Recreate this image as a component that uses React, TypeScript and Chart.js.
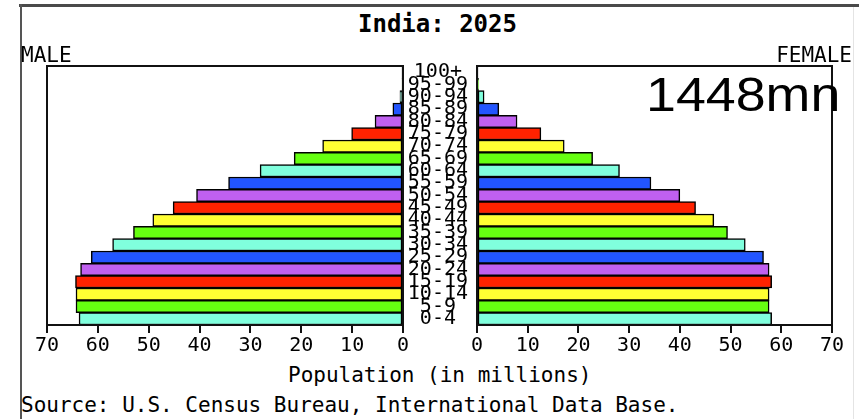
import React, { useEffect, useRef } from "react";
import { Chart, registerables } from "chart.js";

Chart.register(...registerables);

// Age groups, bottom (youngest) to top (oldest)
const AGE_GROUPS = [
  "0-4", "5-9", "10-14", "15-19", "20-24", "25-29", "30-34", "35-39", "40-44",
  "45-49", "50-54", "55-59", "60-64", "65-69", "70-74", "75-79", "80-84",
  "85-89", "90-94", "95-99", "100+",
];

// Population in millions
const MALE = [
  63.7, 64.3, 64.3, 64.4, 63.4, 61.3, 57.1, 53.0, 49.2, 45.2, 40.6, 34.3, 28.1,
  21.4, 15.8, 10.1, 5.5, 2.0, 0.6, 0.1, 0.02,
];
const FEMALE = [
  58.1, 57.6, 57.6, 58.1, 57.6, 56.5, 52.9, 49.4, 46.7, 43.1, 40.0, 34.3, 28.1,
  22.8, 17.2, 12.6, 7.9, 4.3, 1.4, 0.3, 0.05,
];

const X_MAX = 70;
const X_STEP = 10;

const TITLE = "India: 2025";
const TOTAL_LABEL = "1448mn";
const X_TITLE = "Population (in millions)";
const SOURCE = "Source: U.S. Census Bureau, International Data Base.";

const COLOR_CYCLE = ["#80ffdd", "#66ff11", "#ffff33", "#ff2200", "#c060f0", "#2255ff"];
const barColors = AGE_GROUPS.map((_, i) => COLOR_CYCLE[i % COLOR_CYCLE.length]);

const MONO = "'DejaVu Sans Mono', monospace";

const boxPlugin = {
  id: "plotBox",
  afterDatasetsDraw(chart: any) {
    const { ctx, chartArea } = chart;
    ctx.save();
    ctx.strokeStyle = "#111";
    ctx.lineWidth = 2;
    ctx.strokeRect(chartArea.left, chartArea.top, chartArea.right - chartArea.left, chartArea.bottom - chartArea.top);
    ctx.restore();
  },
};

function makeConfig(values: number[], male: boolean): any {
  return {
    type: "bar",
    data: {
      labels: AGE_GROUPS,
      datasets: [
        {
          data: values,
          backgroundColor: barColors,
          borderColor: "#000",
          borderWidth: 1.5,
          borderSkipped: false,
          barPercentage: 1,
          categoryPercentage: 1,
        },
      ],
    },
    options: {
      indexAxis: "y",
      animation: false,
      responsive: false,
      maintainAspectRatio: false,
      events: [],
      layout: male
        ? { padding: { left: 27, right: 17, top: 26, bottom: 0 } }
        : { padding: { left: 23, right: 18, top: 26, bottom: 0 } },
      plugins: { legend: { display: false }, tooltip: { enabled: false }, title: { display: false } },
      scales: {
        x: {
          reverse: male,
          min: 0,
          max: X_MAX,
          ticks: {
            stepSize: X_STEP,
            color: "#000",
            font: { family: MONO, size: 20 },
            padding: 1,
            maxRotation: 0,
            autoSkip: false,
          },
          grid: { drawOnChartArea: false, drawTicks: true, tickLength: 8, color: "#111", lineWidth: 2 },
          border: { display: true, color: "#111", width: 2 },
          afterFit: (s: any) => {
            s.height = 35;
          },
        },
        y: male
          ? { display: false, reverse: true }
          : {
              reverse: true,
              position: "left",
              ticks: {
                color: "#000",
                font: { family: MONO, size: 20 },
                crossAlign: "center",
                padding: 9,
                autoSkip: false,
              },
              grid: { display: false, drawTicks: false },
              border: { display: false },
              afterFit: (s: any) => {
                s.width = 74;
              },
            },
      },
    },
    plugins: [boxPlugin],
  };
}

function Pyramid() {
  const maleRef = useRef<HTMLCanvasElement>(null);
  const femaleRef = useRef<HTMLCanvasElement>(null);
  useEffect(() => {
    const m = new Chart(maleRef.current as HTMLCanvasElement, makeConfig(MALE, true));
    const f = new Chart(femaleRef.current as HTMLCanvasElement, makeConfig(FEMALE, false));
    return () => {
      m.destroy();
      f.destroy();
    };
  }, []);

  const txt = (style: React.CSSProperties): React.CSSProperties => ({
    position: "absolute",
    fontFamily: MONO,
    fontSize: 21,
    lineHeight: 1,
    color: "#000",
    whiteSpace: "nowrap",
    ...style,
  });

  return (
    <div style={{ position: "absolute", left: 0, top: 0, width: 859, height: 419, background: "#fff", overflow: "hidden" }}>
      {/* frame */}
      <div style={{ position: "absolute", left: 19, top: 4, width: 840, height: 3, background: "#4a4a4a" }} />
      <div style={{ position: "absolute", left: 20, top: 4, width: 2, height: 415, background: "#555" }} />
      <div style={{ position: "absolute", left: 853, top: 7, width: 1, height: 412, background: "#e4e4e4" }} />

      <canvas ref={maleRef} width={400} height={320} style={{ position: "absolute", left: 20, top: 40, width: 400, height: 320 }} />
      <canvas ref={femaleRef} width={470} height={320} style={{ position: "absolute", left: 380, top: 40, width: 470, height: 320 }} />

      <div style={txt({ left: 358, top: 12, fontSize: 24, fontWeight: "bold" })}>{TITLE}</div>
      <div style={txt({ left: 21, top: 45 })}>MALE</div>
      <div style={txt({ right: 7, top: 45 })}>FEMALE</div>
      <div
        style={{
          position: "absolute",
          left: 646,
          top: 71,
          fontFamily: "'Liberation Sans', Arial, sans-serif",
          fontSize: 48,
          lineHeight: 1,
          color: "#000",
          whiteSpace: "nowrap",
          transform: "scaleX(1.12)",
          transformOrigin: "left top",
        }}
      >
        {TOTAL_LABEL}
      </div>
      <div style={txt({ left: 288, top: 365 })}>{X_TITLE}</div>
      <div style={txt({ left: 21, top: 395 })}>{SOURCE}</div>
    </div>
  );
}

export default function App() {
  return <Pyramid />;
}
